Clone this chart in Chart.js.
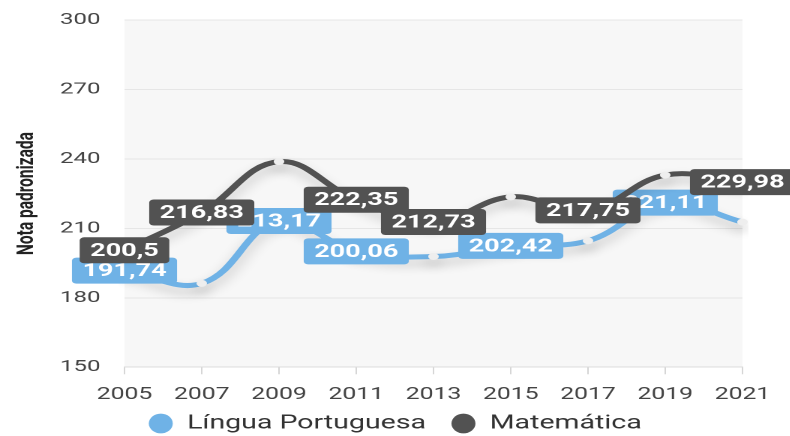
<!DOCTYPE html>
<html>
<head>
<meta charset="utf-8">
<script src="https://cdn.jsdelivr.net/npm/chart.js@4.4.0/dist/chart.umd.min.js"></script>
<style>
  html, body { margin: 0; padding: 0; background: #fff; overflow: hidden; }
  /* the reference is a horizontally stretched screenshot: draw narrow, stretch by 1.5 */
  #wrap { width: 527px; height: 436px; transform: scaleX(1.5); transform-origin: 0 0; }
</style>
</head>
<body>
<div id="wrap"><canvas id="chart" style="width:527px;height:436px"></canvas></div>
<script>
// Dados
const anos = ['2005', '2007', '2009', '2011', '2013', '2015', '2017', '2019', '2021'];
const portugues = [191.74, 186.2, 213.17, 200.06, 197.8, 202.42, 204.6, 221.11, 212.7];
const matematica = [200.5, 216.83, 238.8, 222.35, 212.73, 223.6, 217.75, 233.0, 229.98];
// quais pontos levam rótulo
const rotulosPort = [true, false, true, true, false, true, false, true, false];
const rotulosMat = [true, true, false, true, true, false, true, false, true];

const azul = '#6fb2e6';
const cinza = '#525252';

const fmt = v => String(v).replace('.', ',');

// fundo da área do gráfico + posição da legenda
const plotBg = {
  id: 'plotBg',
  afterLayout(chart) {
    const lg = chart.legend;
    const h = lg.bottom - lg.top;
    lg.top = 397;
    lg.bottom = lg.top + h;
  },
  beforeDraw(chart) {
    const { ctx, chartArea: a } = chart;
    ctx.save();
    ctx.fillStyle = '#f7f7f7';
    ctx.fillRect(a.left, a.top, a.right - a.left, a.bottom - a.top);
    ctx.restore();
  }
};

// sombra das linhas + rótulos de valor
const valueLabels = {
  id: 'valueLabels',
  beforeDatasetDraw(chart) {
    const ctx = chart.ctx;
    ctx.save();
    ctx.shadowColor = 'rgba(0,0,0,0.2)';
    ctx.shadowBlur = 20;
    ctx.shadowOffsetY = 12;
  },
  afterDatasetDraw(chart, args) {
    const ctx = chart.ctx;
    ctx.restore();
    const ds = chart.data.datasets[args.index];
    const meta = chart.getDatasetMeta(args.index);
    ctx.save();
    ctx.font = 'bold 18px Roboto';
    ctx.textAlign = 'center';
    ctx.textBaseline = 'middle';
    meta.data.forEach((pt, i) => {
      if (!ds.rotulos[i]) return;
      const txt = fmt(ds.data[i]);
      const w = ctx.measureText(txt).width + 14;
      const h = 26;
      ctx.fillStyle = ds.borderColor;
      ctx.beginPath();
      ctx.roundRect(pt.x - w / 2, pt.y - h / 2, w, h, 3);
      ctx.fill();
      ctx.fillStyle = '#fff';
      ctx.fillText(txt, pt.x, pt.y + 1);
    });
    ctx.restore();
  }
};

new Chart(document.getElementById('chart'), {
  type: 'line',
  data: {
    labels: anos,
    datasets: [
      {
        label: 'Língua Portuguesa',
        data: portugues,
        rotulos: rotulosPort,
        borderColor: azul,
        backgroundColor: azul,
        borderWidth: 5,
        tension: 0.4,
        pointRadius: 3.5,
        pointBackgroundColor: '#eeeeee',
        pointBorderWidth: 0,
        order: 2
      },
      {
        label: 'Matemática',
        data: matematica,
        rotulos: rotulosMat,
        borderColor: cinza,
        backgroundColor: cinza,
        borderWidth: 5,
        tension: 0.4,
        pointRadius: 3.5,
        pointBackgroundColor: '#eeeeee',
        pointBorderWidth: 0,
        order: 1
      }
    ]
  },
  options: {
    responsive: false,
    devicePixelRatio: 2,
    animation: false,
    layout: { padding: { top: 20, right: 0, left: 0, bottom: -26 } },
    scales: {
      x: {
        offset: false,
        grid: { drawOnChartArea: false, drawTicks: true, tickLength: 7, tickColor: '#d6d6d6' },
        border: { color: '#dcdcdc' },
        ticks: { color: '#444', font: { family: 'Roboto', size: 16.5 }, padding: 11, maxRotation: 0 },
        afterFit(scale) {
          scale.paddingRight = 32;
        }
      },
      y: {
        min: 150,
        max: 300,
        grid: { color: '#e6e6e6', drawTicks: false },
        border: { display: false },
        ticks: { stepSize: 30, color: '#444', font: { family: 'Roboto', size: 16 }, padding: 16 },
        title: {
          display: true,
          text: 'Nota padronizada',
          color: '#222',
          font: { family: 'Roboto', size: 15.5, weight: 'bold' },
          padding: { top: 9, bottom: 0 }
        },
        afterFit(scale) {
          scale.width = 83;
          scale.paddingTop = 0;
        }
      }
    },
    plugins: {
      legend: {
        position: 'bottom',
        labels: {
          usePointStyle: true,
          pointStyle: 'circle',
          pointStyleWidth: 16,
          boxHeight: 14,
          padding: 17,
          color: '#333',
          font: { family: 'Roboto', size: 19 },
          sort: (a, b) => a.datasetIndex - b.datasetIndex,
          generateLabels(chart) {
            const items = Chart.defaults.plugins.legend.labels.generateLabels(chart);
            items.forEach(it => {
              const c = chart.data.datasets[it.datasetIndex].borderColor;
              it.fillStyle = c;
              it.strokeStyle = c;
              it.lineWidth = 0;
            });
            return items;
          }
        }
      },
      tooltip: { enabled: false }
    }
  },
  plugins: [plotBg, valueLabels]
});
</script>
</body>
</html>
